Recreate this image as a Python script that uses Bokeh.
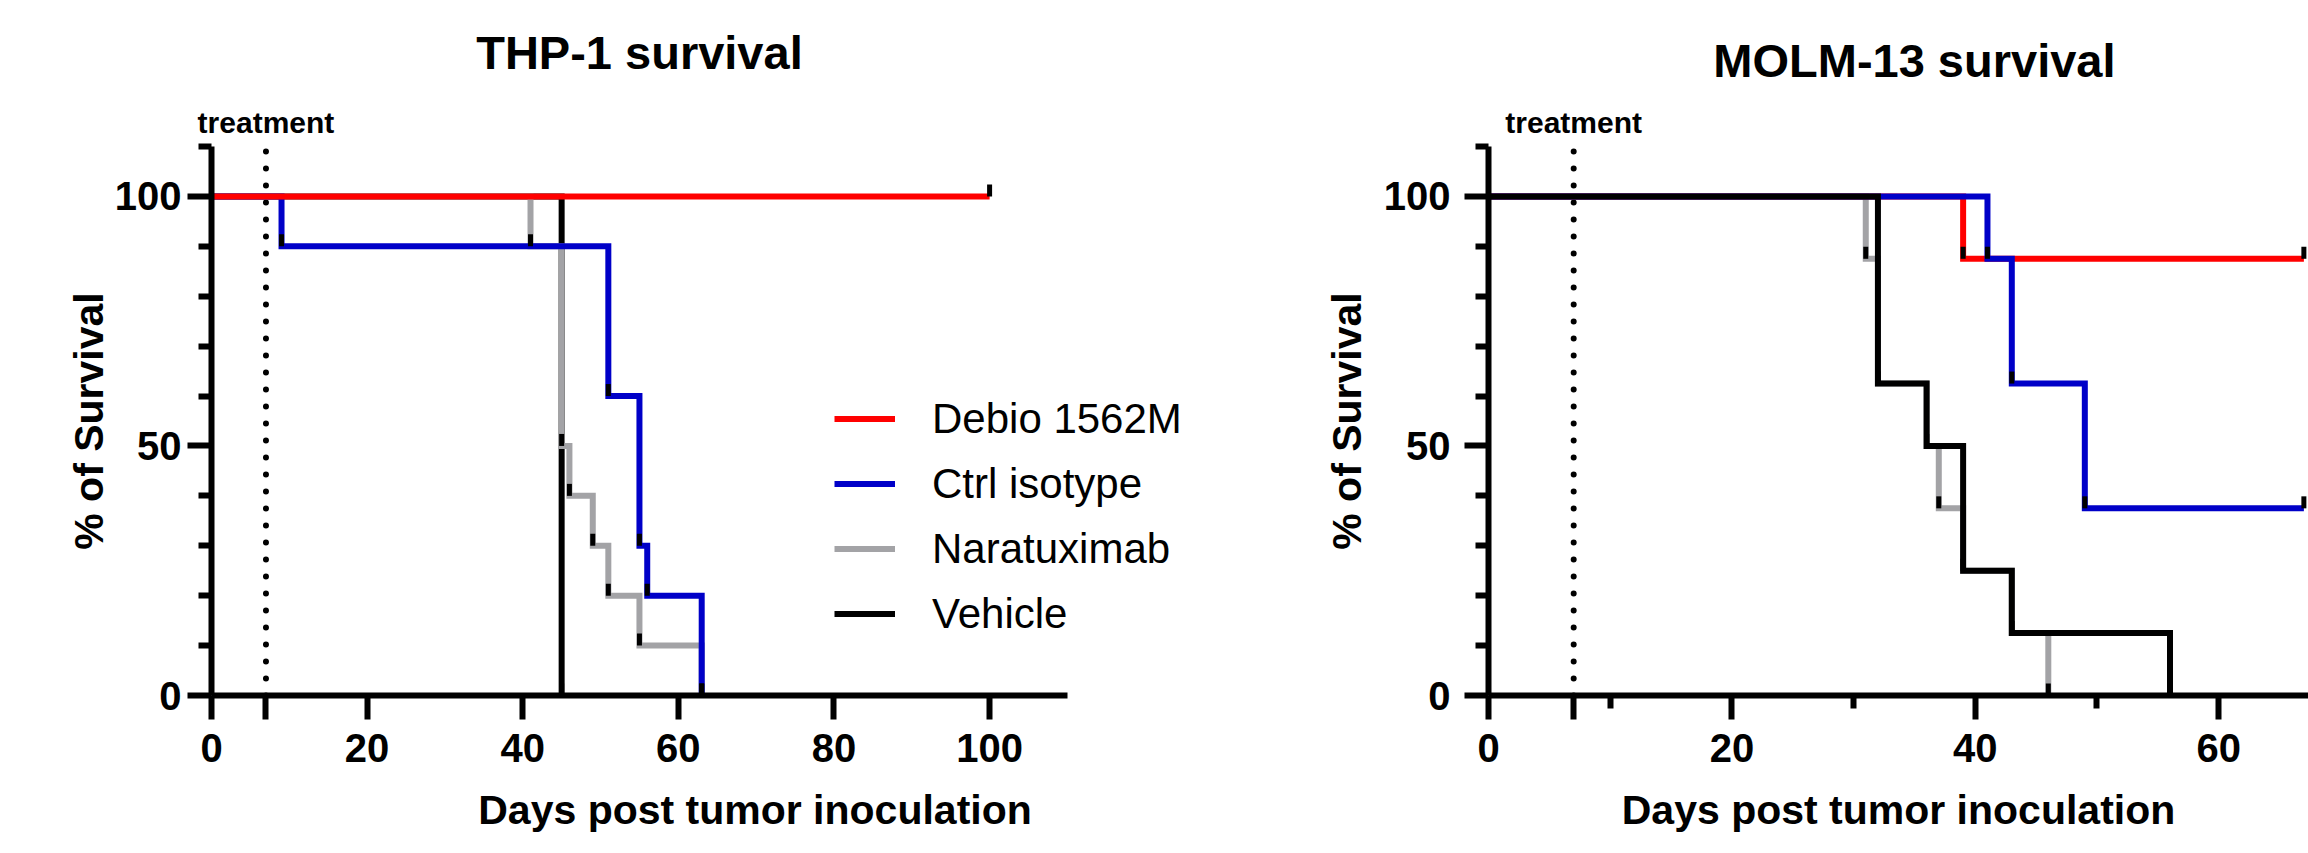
import math
from bokeh.plotting import figure
from bokeh.models import Range1d, FixedTicker, Legend, LegendItem, LinearAxis
from bokeh.layouts import row
from bokeh.embed import file_html
from bokeh.resources import INLINE

# ---------------- data ----------------
series_names = ["Debio 1562M", "Ctrl isotype", "Naratuximab", "Vehicle"]
series_colors = ["#FF0000", "#0000C8", "#A3A3A6", "#000000"]

# THP-1 (Kaplan-Meier steps: day of event, % survival after event)
thp_debio_days = [0, 100]
thp_debio_surv = [100, 100]
thp_ctrl_days = [0, 9, 51, 55, 56, 63]
thp_ctrl_surv = [100, 90, 60, 30, 20, 0]
thp_nara_days = [0, 41, 45, 46, 49, 51, 55, 63]
thp_nara_surv = [100, 90, 50, 40, 30, 20, 10, 0]
thp_veh_days = [0, 45]
thp_veh_surv = [100, 0]

# MOLM-13
molm_debio_days = [0, 39, 67]
molm_debio_surv = [100, 87.5, 87.5]
molm_ctrl_days = [0, 41, 43, 49, 67]
molm_ctrl_surv = [100, 87.5, 62.5, 37.5, 37.5]
molm_nara_days = [0, 31, 32, 36, 37, 39, 43, 46]
molm_nara_surv = [100, 87.5, 62.5, 50, 37.5, 25, 12.5, 0]
molm_veh_days = [0, 32, 36, 39, 43, 56]
molm_veh_surv = [100, 62.5, 50, 25, 12.5, 0]

treatment_day = 7
y_axis_top = 110
thp_x_axis_end = 110
y_major = [0, 50, 100]
y_minor = [10, 20, 30, 40, 60, 70, 80, 90, 110]
thp_x_ticks = [0, 7, 20, 40, 60, 80, 100]
molm_x_ticks = [0, 7, 20, 40, 60, 80]
molm_x_minor = [10, 30, 50, 70]

FONT = "Liberation Sans"


def style_axes(p, xticks, xminor, x_std, y_std, xlab_std, ylab_std):
    p.xaxis.ticker = FixedTicker(ticks=xticks, minor_ticks=xminor)
    p.yaxis.ticker = FixedTicker(ticks=y_major, minor_ticks=y_minor)
    p.xaxis.major_label_overrides = {7: ""}
    p.yaxis.bounds = (0, y_axis_top)
    for ax in (p.xaxis[0], p.yaxis[0]):
        ax.axis_line_width = 6
        ax.axis_line_color = "black"
        ax.major_tick_line_width = 6
        ax.minor_tick_line_width = 6
        ax.major_tick_line_color = "black"
        ax.minor_tick_line_color = "black"
        ax.major_tick_out = 24
        ax.major_tick_in = 0
        ax.minor_tick_out = 13
        ax.minor_tick_in = 0
        ax.major_label_text_font = FONT
        ax.major_label_text_font_style = "bold"
        ax.major_label_text_font_size = "40px"
        ax.major_label_text_color = "black"
        ax.axis_label_text_font = FONT
        ax.axis_label_text_font_style = "bold"
        ax.axis_label_text_font_size = "41px"
        ax.axis_label_text_color = "black"
    p.xaxis.major_label_standoff = x_std
    p.yaxis.major_label_standoff = y_std
    p.xaxis.axis_label_standoff = xlab_std
    p.yaxis.axis_label_standoff = ylab_std
    p.xaxis.axis_label = "Days post tumor inoculation"
    p.yaxis.axis_label = "% of Survival"
    p.xgrid.visible = False
    p.ygrid.visible = False
    p.outline_line_color = None


def add_top_text(p, x, text, size, standoff):
    ax = LinearAxis(ticker=FixedTicker(ticks=[x], minor_ticks=[]),
                    major_label_overrides={x: text},
                    axis_line_color=None, major_tick_line_color=None,
                    minor_tick_line_color=None, major_tick_out=0, major_tick_in=0,
                    minor_tick_out=0, minor_tick_in=0, major_label_standoff=standoff,
                    major_label_text_font=FONT, major_label_text_font_style="bold",
                    major_label_text_font_size=size, major_label_text_color="black")
    p.add_layout(ax, "above")


def add_treatment_line(p):
    p.segment(x0=[treatment_day], y0=[0], x1=[treatment_day], y1=[y_axis_top],
              line_color="black", line_width=6, line_dash="0 17", line_cap="round")


def add_curves(p, data, order):
    rends = {}
    for i in order:
        days, surv = data[i]
        rends[i] = p.step(days, surv, mode="after", line_width=6,
                          line_color=series_colors[i], line_join="miter")
    for i in order:
        days, surv = data[i]
        p.ray(x=days[1:], y=surv[1:], length=12, angle=math.pi / 2,
              length_units="screen", line_width=5, line_color="black")
    return rends


# ---------------- THP-1 ----------------
p1 = figure(title=None, width=1298, height=853, min_border_left=211,
            min_border_right=0, min_border_top=146, min_border_bottom=158,
            x_range=Range1d(0, 139.7), y_range=Range1d(0, y_axis_top),
            output_backend="svg", toolbar_location=None,
            background_fill_color="white", border_fill_color="white")
style_axes(p1, thp_x_ticks, [], 14, 6, 22, 0)
p1.xaxis.bounds = (0, thp_x_axis_end)
add_top_text(p1, treatment_day, "treatment", "30px", 8)
add_top_text(p1, 55, "THP-1 survival", "47px", 24)
add_treatment_line(p1)
thp_data = [(thp_debio_days, thp_debio_surv), (thp_ctrl_days, thp_ctrl_surv),
            (thp_nara_days, thp_nara_surv), (thp_veh_days, thp_veh_surv)]
r1 = add_curves(p1, thp_data, [3, 2, 1, 0])
dash_r = p1.scatter(x=[], y=[], marker="dash", angle=math.pi / 2, size=12,
                    line_color="black", line_width=5)
legend = Legend(items=[LegendItem(label=series_names[i], renderers=[r1[i], dash_r])
                       for i in range(4)],
                location=(623, 49), orientation="vertical", padding=0, spacing=0,
                margin=0, glyph_width=61, glyph_height=65, label_height=65,
                label_standoff=37, label_text_font=FONT, label_text_font_size="42px",
                label_text_color="black", border_line_alpha=0, background_fill_alpha=0)
p1.add_layout(legend, "center")

# ---------------- MOLM-13 ----------------
p2 = figure(title=None, width=1010, height=853, min_border_left=190,
            min_border_right=0, min_border_top=146, min_border_bottom=158,
            x_range=Range1d(0, 67.38), y_range=Range1d(0, y_axis_top),
            output_backend="svg", toolbar_location=None,
            background_fill_color="white", border_fill_color="white")
style_axes(p2, molm_x_ticks, molm_x_minor, 14, 14, 22, 11)
add_top_text(p2, treatment_day, "treatment", "30px", 8)
add_top_text(p2, 35, "MOLM-13 survival", "47px", 16)
add_treatment_line(p2)
molm_data = [(molm_debio_days, molm_debio_surv), (molm_ctrl_days, molm_ctrl_surv),
             (molm_nara_days, molm_nara_surv), (molm_veh_days, molm_veh_surv)]
add_curves(p2, molm_data, [2, 0, 1, 3])

layout = row(p1, p2)
open("out.html", "w").write(file_html(layout, INLINE))
